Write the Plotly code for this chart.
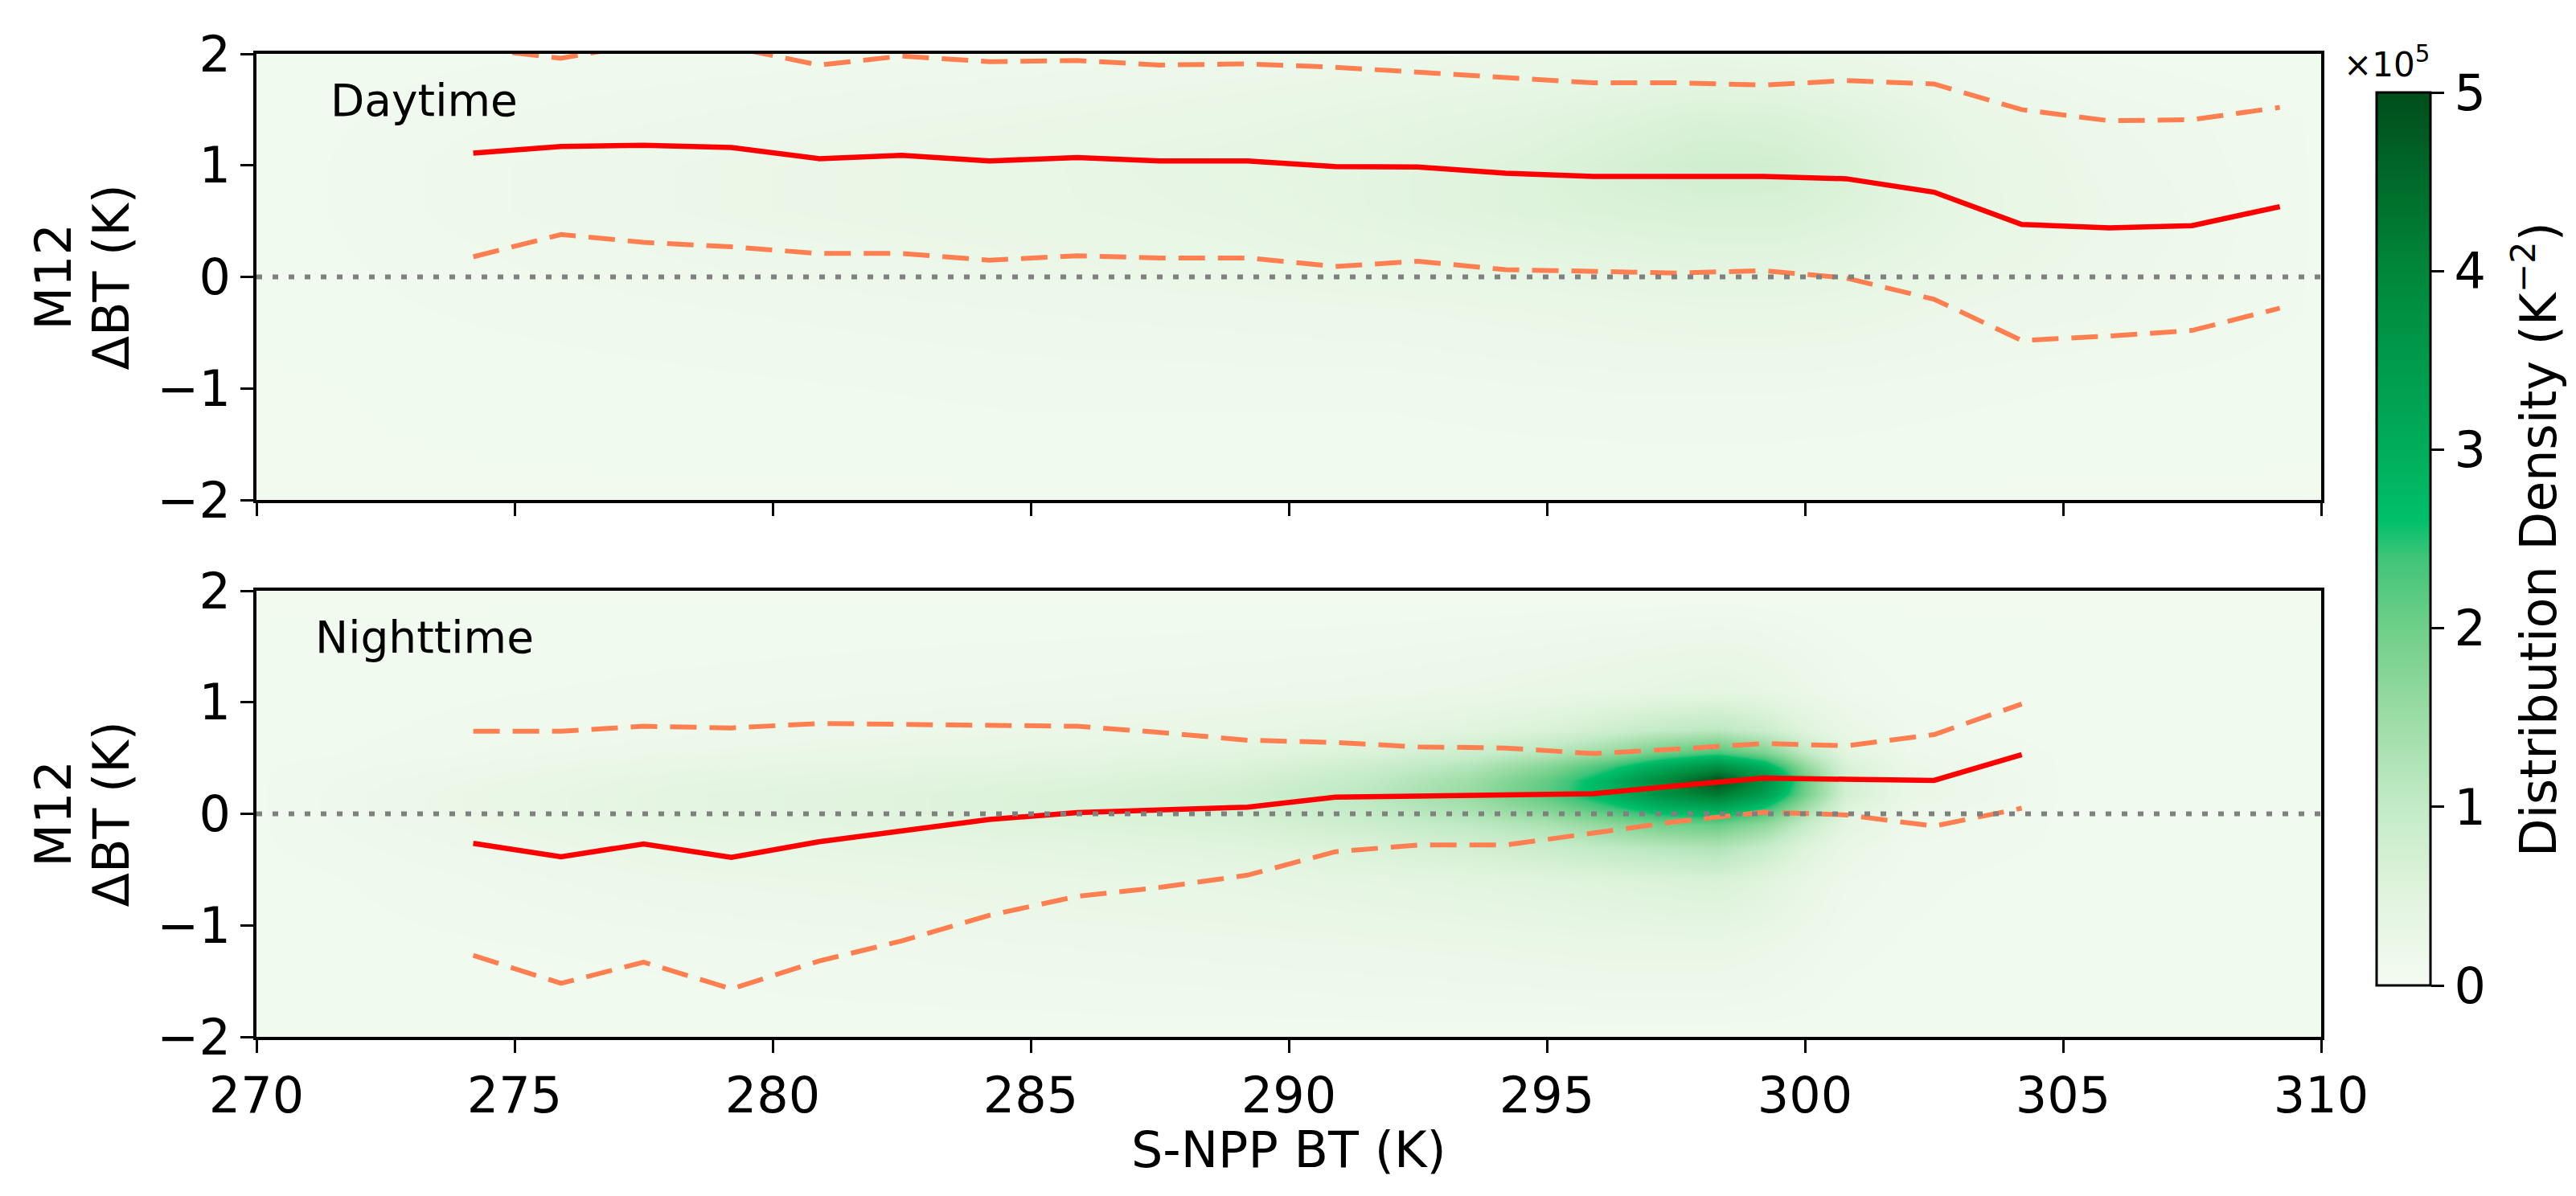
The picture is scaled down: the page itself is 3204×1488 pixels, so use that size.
import plotly.graph_objects as go

# ---------------- data ----------------
bt_day = [274.2, 275.9, 277.5, 279.2, 280.9, 282.5, 284.2, 285.9, 287.5, 289.2, 290.9,
          292.5, 294.2, 295.9, 297.5, 299.2, 300.8, 302.5, 304.2, 305.9, 307.5, 309.2]
day_median = [1.11, 1.17, 1.18, 1.16, 1.06, 1.09, 1.04, 1.07, 1.04, 1.04, 0.99,
              0.985, 0.93, 0.90, 0.90, 0.90, 0.88, 0.76, 0.47, 0.44, 0.46, 0.63]
day_upper = [2.05, 1.96, 2.09, 2.06, 1.90, 1.98, 1.93, 1.94, 1.90, 1.91, 1.88,
             1.835, 1.79, 1.74, 1.74, 1.72, 1.76, 1.73, 1.50, 1.40, 1.41, 1.52]
day_lower = [0.18, 0.38, 0.31, 0.27, 0.21, 0.21, 0.15, 0.19, 0.17, 0.17, 0.094,
             0.14, 0.065, 0.044, 0.035, 0.056, -0.01, -0.20, -0.57, -0.53, -0.48, -0.28]

bt_night = [274.2, 275.9, 277.5, 279.2, 280.9, 282.5, 284.2, 285.9, 287.5, 289.2,
            290.9, 292.5, 294.2, 295.9, 297.5, 299.2, 300.8, 302.5, 304.2]
night_median = [-0.265, -0.385, -0.27, -0.39, -0.25, -0.155, -0.05, 0.01, 0.03, 0.06,
                0.15, 0.16, 0.16, 0.18, 0.25, 0.32, 0.31, 0.30, 0.53]
night_upper = [0.74, 0.74, 0.785, 0.77, 0.81, 0.80, 0.79, 0.785, 0.73, 0.66,
               0.64, 0.60, 0.59, 0.54, 0.58, 0.63, 0.61, 0.71, 0.985]
night_lower = [-1.27, -1.52, -1.33, -1.57, -1.32, -1.14, -0.91, -0.74, -0.66, -0.55,
               -0.34, -0.28, -0.28, -0.17, -0.07, 0.015, -0.01, -0.11, 0.05]

# density (x 1e5 K^-2) sampled on coarse grids, smoothed by the heatmap renderer
day_dens_x = [270, 275, 280, 285, 289, 292, 294.5, 296.5, 298, 299.5, 301, 303, 306, 310]
day_dens_y = [-2, -1, -0.3, 0.2, 0.6, 1.0, 1.4, 1.8, 2]
day_dens = [
    [0.06, 0.06, 0.06, 0.06, 0.06, 0.06, 0.06, 0.06, 0.06, 0.06, 0.06, 0.06, 0.06, 0.06],
    [0.06, 0.08, 0.10, 0.12, 0.12, 0.12, 0.14, 0.15, 0.15, 0.15, 0.14, 0.12, 0.10, 0.08],
    [0.08, 0.12, 0.15, 0.18, 0.20, 0.22, 0.25, 0.28, 0.30, 0.30, 0.28, 0.22, 0.18, 0.10],
    [0.08, 0.15, 0.20, 0.25, 0.30, 0.35, 0.40, 0.45, 0.48, 0.48, 0.42, 0.30, 0.20, 0.10],
    [0.08, 0.18, 0.25, 0.30, 0.35, 0.45, 0.55, 0.62, 0.65, 0.65, 0.55, 0.35, 0.22, 0.10],
    [0.08, 0.18, 0.25, 0.30, 0.38, 0.45, 0.55, 0.70, 0.80, 0.78, 0.60, 0.35, 0.20, 0.10],
    [0.08, 0.15, 0.20, 0.25, 0.30, 0.38, 0.45, 0.55, 0.65, 0.62, 0.50, 0.30, 0.18, 0.10],
    [0.08, 0.12, 0.15, 0.18, 0.22, 0.26, 0.30, 0.35, 0.38, 0.36, 0.30, 0.20, 0.12, 0.08],
    [0.08, 0.10, 0.12, 0.15, 0.18, 0.20, 0.24, 0.28, 0.30, 0.28, 0.24, 0.16, 0.10, 0.08],
]

night_dens_x = [270, 274, 278, 282, 286, 289, 291.5, 293.5, 295, 296.2, 297.2, 298.3,
                299.2, 300, 300.8, 302, 305, 310]
night_dens_y = [-2, -1.2, -0.6, -0.3, -0.1, 0.05, 0.18, 0.3, 0.42, 0.55, 0.75, 1.1, 2]
night_dens = [
    [0.08, 0.08, 0.08, 0.08, 0.08, 0.08, 0.08, 0.08, 0.08, 0.08, 0.08, 0.08, 0.08, 0.08, 0.08, 0.08, 0.08, 0.08],
    [0.08, 0.10, 0.12, 0.15, 0.18, 0.20, 0.22, 0.24, 0.26, 0.28, 0.28, 0.28, 0.24, 0.18, 0.12, 0.10, 0.08, 0.08],
    [0.08, 0.14, 0.22, 0.26, 0.30, 0.34, 0.40, 0.45, 0.50, 0.55, 0.60, 0.65, 0.50, 0.32, 0.18, 0.12, 0.08, 0.08],
    [0.10, 0.18, 0.30, 0.36, 0.42, 0.50, 0.62, 0.75, 0.90, 1.05, 1.15, 1.25, 0.95, 0.55, 0.28, 0.14, 0.10, 0.08],
    [0.10, 0.22, 0.38, 0.45, 0.55, 0.65, 0.85, 1.05, 1.30, 1.65, 1.95, 2.05, 1.65, 0.95, 0.42, 0.18, 0.10, 0.08],
    [0.10, 0.25, 0.42, 0.50, 0.62, 0.75, 1.00, 1.35, 1.80, 2.35, 2.85, 3.10, 2.50, 1.45, 0.55, 0.22, 0.10, 0.08],
    [0.10, 0.25, 0.42, 0.50, 0.62, 0.78, 1.10, 1.55, 2.20, 2.90, 3.70, 4.30, 3.40, 1.95, 0.75, 0.28, 0.10, 0.08],
    [0.10, 0.22, 0.38, 0.45, 0.55, 0.70, 1.00, 1.45, 2.10, 2.90, 3.90, 5.00, 3.80, 2.05, 0.75, 0.28, 0.10, 0.08],
    [0.10, 0.18, 0.30, 0.38, 0.45, 0.58, 0.85, 1.20, 1.75, 2.40, 3.10, 3.80, 3.00, 1.65, 0.65, 0.24, 0.10, 0.08],
    [0.08, 0.14, 0.22, 0.28, 0.35, 0.45, 0.60, 0.85, 1.15, 1.55, 2.00, 2.30, 1.85, 1.05, 0.45, 0.18, 0.10, 0.08],
    [0.08, 0.12, 0.16, 0.20, 0.25, 0.30, 0.38, 0.48, 0.62, 0.82, 1.00, 1.10, 0.88, 0.52, 0.28, 0.14, 0.08, 0.08],
    [0.08, 0.10, 0.12, 0.14, 0.16, 0.18, 0.20, 0.24, 0.28, 0.32, 0.36, 0.40, 0.34, 0.24, 0.15, 0.10, 0.08, 0.08],
    [0.06, 0.06, 0.06, 0.06, 0.06, 0.06, 0.06, 0.06, 0.06, 0.06, 0.06, 0.06, 0.06, 0.06, 0.06, 0.06, 0.06, 0.06],
]

x_ticks = [270, 275, 280, 285, 290, 295, 300, 305, 310]
y_ticks = [-2, -1, 0, 1, 2]
cbar_ticks = [0, 1, 2, 3, 4, 5]
panel_labels = ["Daytime", "Nighttime"]

# ---------------- styling ----------------
FONT = "DejaVu Sans"
W, H = 3204, 1488
L, R, T, B = 311, 2879, 59, 1282
PH = B - T

colorscale = [
    [0.00, "#f4fbf2"], [0.10, "#e1f4de"], [0.20, "#c3ebc6"], [0.30, "#9cdca6"],
    [0.40, "#6fcf88"], [0.48, "#3fc479"], [0.52, "#00c06a"], [0.60, "#00ad5a"],
    [0.70, "#009a4b"], [0.80, "#00873a"], [0.90, "#006b2b"], [1.00, "#004d1a"],
]

RED = "#ff0000"
CORAL = "#ff7f50"

fig = go.Figure()

def add_panel(xaxis, yaxis, dx, dy, dz, bt, med, up, lo):
    fig.add_trace(go.Heatmap(x=dx, y=dy, z=dz, zsmooth="best", coloraxis="coloraxis",
                             xaxis=xaxis, yaxis=yaxis, hoverinfo="skip"))
    fig.add_trace(go.Scatter(x=bt, y=up, mode="lines", xaxis=xaxis, yaxis=yaxis,
                             line=dict(color=CORAL, width=6, dash="33px,16px"), showlegend=False))
    fig.add_trace(go.Scatter(x=bt, y=lo, mode="lines", xaxis=xaxis, yaxis=yaxis,
                             line=dict(color=CORAL, width=6, dash="33px,16px"), showlegend=False))
    fig.add_trace(go.Scatter(x=bt, y=med, mode="lines", xaxis=xaxis, yaxis=yaxis,
                             line=dict(color=RED, width=6.5), showlegend=False))

add_panel("x", "y", day_dens_x, day_dens_y, day_dens, bt_day, day_median, day_upper, day_lower)
add_panel("x2", "y2", night_dens_x, night_dens_y, night_dens, bt_night, night_median, night_upper, night_lower)

top_dom = [(B - 614) / PH, 1.0]
bot_dom = [0.0, (B - 727) / PH]

axis_common = dict(showline=True, mirror=True, linecolor="black", linewidth=3.5,
                   ticks="outside", ticklen=16, tickwidth=3, tickcolor="black",
                   showgrid=False, zeroline=False,
                   tickfont=dict(family=FONT, size=62, color="black"))

fig.update_layout(
    width=W, height=H,
    margin=dict(l=L, r=W - R, t=T, b=H - B),
    paper_bgcolor="white", plot_bgcolor="white",
    font=dict(family=FONT, color="black"),
    showlegend=False,
    xaxis=dict(domain=[0, 1], range=[270, 310], tickvals=x_ticks, showticklabels=False,
               anchor="y", **axis_common),
    yaxis=dict(domain=top_dom, range=[-2, 2], tickvals=y_ticks, anchor="x", **axis_common),
    xaxis2=dict(domain=[0, 1], range=[270, 310], tickvals=x_ticks, anchor="y2", **axis_common),
    yaxis2=dict(domain=bot_dom, range=[-2, 2], tickvals=y_ticks, anchor="x2", **axis_common),
    coloraxis=dict(
        cmin=0, cmax=5, colorscale=colorscale,
        colorbar=dict(
            x=(2948 - L) / (R - L), xanchor="left", xpad=0,
            y=(B - (107 + 1218) / 2) / PH, yanchor="middle", ypad=0,
            thickness=67, thicknessmode="pixels",
            len=1111, lenmode="pixels",
            outlinewidth=3, outlinecolor="black",
            tickvals=cbar_ticks, ticks="outside", ticklen=16, tickwidth=3, tickcolor="black",
            tickfont=dict(family=FONT, size=62, color="black"),
        ),
    ),
)

for yref in ["y", "y2"]:
    fig.add_shape(type="line", xref="x domain" if yref == "y" else "x2 domain", yref=yref,
                  x0=0, x1=1, y0=0, y1=0,
                  line=dict(color="#808080", width=6, dash="7px,13px"), layer="above")

# panel labels
fig.add_annotation(x=271.4, y=1.58, xref="x", yref="y", text=panel_labels[0], showarrow=False,
                   xanchor="left", yanchor="middle", font=dict(family=FONT, size=55, color="black"))
fig.add_annotation(x=271.1, y=1.58, xref="x2", yref="y2", text=panel_labels[1], showarrow=False,
                   xanchor="left", yanchor="middle", font=dict(family=FONT, size=55, color="black"))

# x-axis title
fig.add_annotation(x=0.5, y=0, yshift=-140, xref="paper", yref="paper", text="S-NPP BT (K)",
                   showarrow=False, xanchor="center", yanchor="middle",
                   font=dict(family=FONT, size=62, color="black"))

# y-axis titles (two lines each)
for dom in (top_dom, bot_dom):
    yc = (dom[0] + dom[1]) / 2
    fig.add_annotation(x=(58 - L) / (R - L), y=yc, xref="paper", yref="paper", text="M12",
                       textangle=-90, showarrow=False, xanchor="center", yanchor="middle",
                       font=dict(family=FONT, size=62, color="black"))
    fig.add_annotation(x=(130 - L) / (R - L), y=yc, xref="paper", yref="paper", text="ΔBT (K)",
                       textangle=-90, showarrow=False, xanchor="center", yanchor="middle",
                       font=dict(family=FONT, size=62, color="black"))

# colorbar title and multiplier
fig.add_annotation(x=(3145 - L) / (R - L), y=(B - 663) / PH, xref="paper", yref="paper",
                   text="Distribution Density (K<sup>−2</sup>)", textangle=-90, showarrow=False,
                   xanchor="center", yanchor="middle", font=dict(family=FONT, size=62, color="black"))
fig.add_annotation(x=(2905 - L) / (R - L), y=(B - 70) / PH, xref="paper", yref="paper",
                   text="×10<sup>5</sup>", showarrow=False, xanchor="left", yanchor="middle",
                   font=dict(family=FONT, size=42, color="black"))

fig.write_html("out.html")
